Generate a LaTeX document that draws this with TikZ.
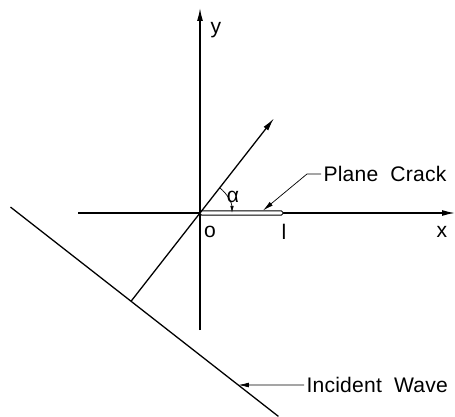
\documentclass[tikz,border=0pt]{standalone}
\usepackage{fontspec}
\setmainfont{Liberation Sans}[LetterSpace=1]
\usepackage{tikz}
\usetikzlibrary{arrows.meta, positioning, calc}

\tikzset{
  axisline/.style={line width=1.1pt, -{Latex[length=11pt,width=5pt]}},
  leader/.style={line width=0.6pt, -{Latex[length=9pt,width=4pt]}},
  lbl/.style={font=\fontsize{18}{21}\selectfont, inner sep=2pt}
}

\begin{document}
\begin{tikzpicture}[x=0.03cm, y=0.03cm]
  \useasboundingbox (0,0) rectangle (455,416);
  \coordinate (O) at (200,203);

  % Axes
  \coordinate (xl) at (78,203);
  \coordinate (xr) at (455,203);
  \coordinate (yb) at (200,86);
  \coordinate (yt) at (200,408);
  \draw[axisline] (xl) -- (xr);
  \draw[axisline] (yb) -- (yt);

  % Crack from o to l
  \draw[line width=0.8pt, fill=white, rounded corners=1.5pt] (O) ++(0,-2.2) rectangle (283,205.2);

  % Incident wave and its normal
  \coordinate (F) at ($(O)+(232:112)$);
  \coordinate (N) at ($(O)+(52:120)$);
  \coordinate (W1) at ($(F)+(142:153)$);
  \coordinate (W2) at ($(F)+(-38:187)$);
  \draw[line width=1.1pt] (W1) -- (W2);
  \draw[line width=1.1pt, -{Latex[length=11pt,width=5pt]}] (F) -- (N);

  % Angle
  \draw[line width=0.6pt, -{Latex[length=6pt,width=3pt]}] ($(O)+(52:32)$) arc[start angle=52, end angle=0, radius=32];
  \node[lbl] (alpha) at (233,219) {α};

  % Axis labels
  \node[lbl] (ylbl) at (216,386) {y};
  \node[lbl] (xlbl) at (442,184) {x};
  \node[lbl] (olbl) at (210,184) {o};
  \node[lbl] (llbl) at (284,184) {l};

  % Callouts
  \node[lbl, anchor=west] (crack) at (321,242) {Plane\ \ Crack};
  \coordinate (ctip) at (263,205.5);
  \draw[leader] (crack.west) -- ++(-14,0) -- (ctip);

  \node[lbl, anchor=west] (wave) at (304,31) {Incident\ \ Wave};
  \coordinate (wl) at ($(wave.west)+(-10,0)$);
  \coordinate (wtip) at (intersection of wave.west--wl and F--W2);
  \draw[leader] (wave.west) -- (wtip);
\end{tikzpicture}
\end{document}
